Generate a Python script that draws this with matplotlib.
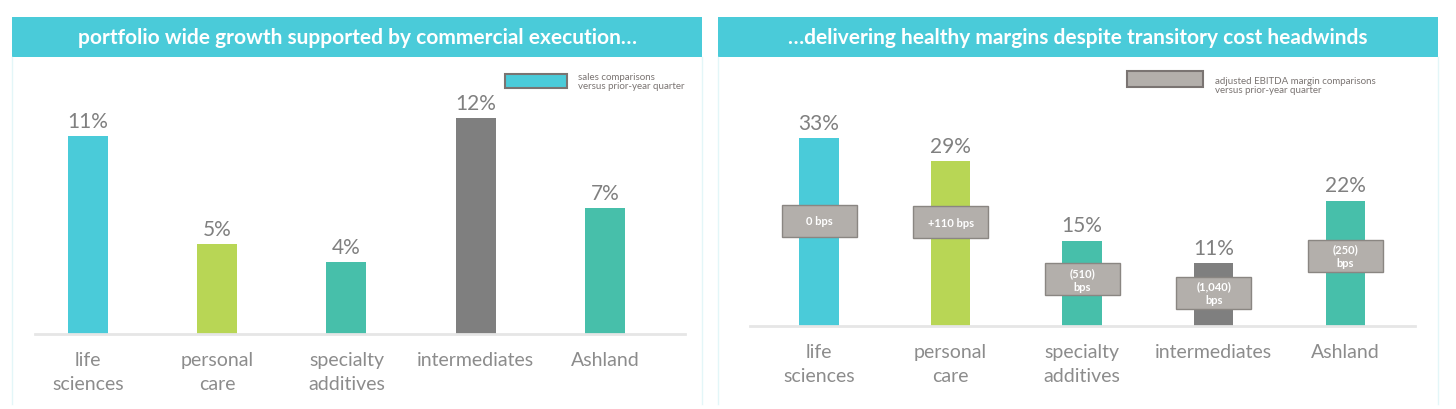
import matplotlib.pyplot as plt
from matplotlib.patches import Rectangle

plt.rcParams["font.family"] = ["Lato", "DejaVu Sans"]

categories = ["life\nsciences", "personal\ncare", "specialty\nadditives", "intermediates", "Ashland"]
sales_growth = [11, 5, 4, 12, 7]
ebitda_margin = [33, 29, 15, 11, 22]
margin_change = ["0 bps", "+110 bps", "(510)\nbps", "(1,040)\nbps", "(250)\nbps"]

TEAL = "#4ACBD9"
GREEN = "#B8D655"
SEA = "#47BFAA"
DARK = "#7F7F7F"
bar_colors = [TEAL, GREEN, SEA, DARK, SEA]
# vertical centre of the bps boxes in margin units (layout only)
box_y = [18.5, 18.2, 8.2, 5.8, 12.3]

W, H = 1456, 410
fig = plt.figure(figsize=(W / 100, H / 100), dpi=100)


def px(x0, y0, w, h):
    return [x0 / W, 1 - (y0 + h) / H, w / W, h / H]


def banner(x0, w, text):
    bax = fig.add_axes(px(x0, 18, w, 40))
    bax.set_axis_off()
    bax.add_patch(Rectangle((0, 0), 1, 1, color=TEAL, transform=bax.transAxes))
    bax.text(0.5, 0.5, text, color="white", fontsize=15, fontweight="bold",
             ha="center", va="center", transform=bax.transAxes)


def panel(rect, vals, xlim, ylim, width, label_pad):
    ax = fig.add_axes(rect)
    ax.bar(range(len(vals)), vals, width=width, color=bar_colors, zorder=2)
    for i, v in enumerate(vals):
        ax.text(i, v + label_pad, f"{v}%", ha="center", va="bottom", fontsize=15, color="#808080")
    ax.set_xlim(*xlim)
    ax.set_ylim(0, ylim)
    ax.set_xticks(range(len(vals)))
    ax.set_xticklabels(categories, fontsize=14, color="#8c8c8c", linespacing=1.5)
    ax.tick_params(length=0, pad=12)
    ax.set_yticks([])
    for s in ["top", "left", "right"]:
        ax.spines[s].set_visible(False)
    ax.spines["bottom"].set_color("#e6e6e6")
    ax.spines["bottom"].set_linewidth(2)
    return ax


banner(12, 690, "portfolio wide growth supported by commercial execution…")
banner(718, 720, "…delivering healthy margins despite transitory cost headwinds")

panel(px(35, 75, 650, 260), sales_growth, (-0.41, 4.62), 260 / 18, 0.31, 0.3)
ax2 = panel(px(750, 83, 665, 244), ebitda_margin, (-0.525, 4.53), 244 / 5.7, 0.30, 0.9)
for i, (t, y) in enumerate(zip(margin_change, box_y)):
    ax2.add_patch(Rectangle((i - 0.285, y - 2.8), 0.57, 5.6, facecolor="#B3AFAB",
                            edgecolor="#8a8682", lw=1, zorder=3))
    ax2.text(i, y, t, ha="center", va="center", color="white", fontsize=8,
             fontweight="bold", zorder=4, linespacing=1.3)

# legends
lax = fig.add_axes([0, 0, 1, 1])
lax.set_axis_off()
lax.set_xlim(0, W)
lax.set_ylim(H, 0)
lax.add_patch(Rectangle((505, 75), 62, 14, facecolor=TEAL, edgecolor="#7a7472", lw=1.5))
lax.text(578, 82, "sales comparisons\nversus prior-year quarter", fontsize=7,
         color="#7a7472", va="center", linespacing=1.1)
lax.add_patch(Rectangle((1127, 72), 76, 16, facecolor="#B3AFAB", edgecolor="#7a7472", lw=1.5))
lax.text(1215, 86, "adjusted EBITDA margin comparisons\nversus prior-year quarter", fontsize=7,
         color="#7a7472", va="center", linespacing=1.1)
# faint panel frames
for x in (12, 702, 718, 1438):
    lax.plot([x, x], [58, 405], color="#e3f6f8", lw=1)

fig.savefig("out.png", dpi=100)
